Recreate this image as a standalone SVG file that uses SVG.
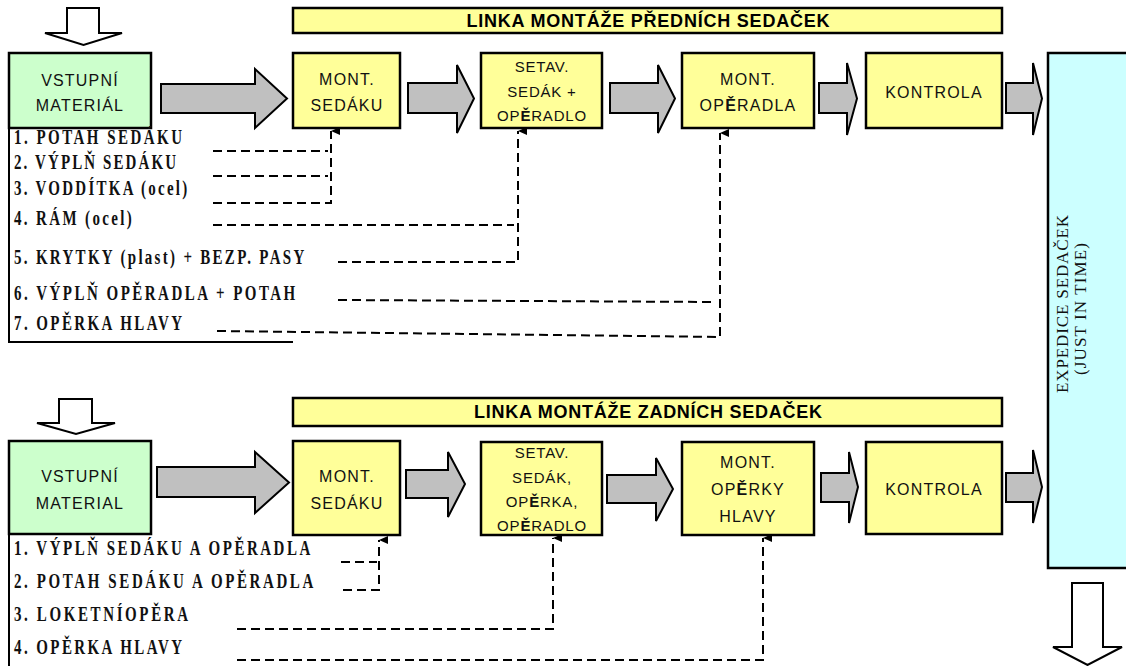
<svg xmlns="http://www.w3.org/2000/svg" width="1126" height="666" viewBox="0 0 1126 666">
<style>
.box{stroke:#000;stroke-width:2.5}
.y{fill:#ffff99}.g{fill:#ccffcc}.c{fill:#ccffff}
.bar{fill:#ffff99;stroke:#000;stroke-width:2.5}
.arr{fill:#c0c0c0;stroke:#000;stroke-width:2;stroke-linejoin:miter}
.hol{fill:#fff;stroke:#000;stroke-width:2}
.t{font-family:"Liberation Sans",Arial,sans-serif;font-size:16px;letter-spacing:1.2px;fill:#111;text-anchor:middle}
.t15{font-size:15px;letter-spacing:0.8px}
.tt{font-family:"Liberation Sans",Arial,sans-serif;font-size:18px;font-weight:bold;fill:#000;text-anchor:middle}
.l{font-family:"Liberation Serif","Times New Roman",serif;font-size:20px;font-weight:bold;fill:#111}
.v{font-family:"Liberation Serif","Times New Roman",serif;font-size:17px;fill:#111;text-anchor:middle}
.d{fill:none;stroke:#000;stroke-width:2;stroke-dasharray:9 5}
.frame{fill:none;stroke:#000;stroke-width:2}
.b{font-weight:bold}
</style>
<defs>
<marker id="up" markerUnits="userSpaceOnUse" markerWidth="10" markerHeight="10" refX="5" refY="0" orient="auto-start-reverse" viewBox="0 0 10 10">
<path d="M5,0 L9,9 L1,9 Z" fill="#000"/>
</marker>
</defs>

<!-- input arrows (hollow) -->
<g id="in-top"><path class="hol" d="M67,8 H99 V33 H122 L83.5,45 L45,33 H67 Z"/></g>
<g id="in-bottom"><path class="hol" d="M59,399 H92 V423 H115 L76,434 L37,423 H59 Z"/></g>
<g id="out"><path class="hol" d="M1072,583 H1103 V647 H1122 L1087.5,665 L1053,647 H1072 Z"/></g>

<!-- title bars -->
<g id="title-front"><rect class="bar" x="293" y="8" width="709" height="25"/>
<text class="tt" x="648" y="27" textLength="363" lengthAdjust="spacing">LINKA MONTÁŽE PŘEDNÍCH SEDAČEK</text></g>
<g id="title-rear"><rect class="bar" x="293" y="398" width="709" height="28"/>
<text class="tt" x="648" y="418" textLength="348" lengthAdjust="spacing">LINKA MONTÁŽE ZADNÍCH SEDAČEK</text></g>

<!-- expedice -->
<g id="expedice"><rect class="box c" x="1048" y="53" width="90" height="515"/>
<text class="v" transform="translate(1068,304) rotate(-90)" textLength="178" lengthAdjust="spacing">EXPEDICE SEDAČEK</text>
<text class="v" transform="translate(1086,309) rotate(-90)" textLength="132" lengthAdjust="spacing">(JUST IN TIME)</text></g>

<!-- flow arrows -->
<g id="flow">
<path class="arr" d="M161,84 H255 V69 L287,98.5 L255,128 V113 H161 Z"/>
<path class="arr" d="M408,83 H457 V65 L474,98.5 L457,133 V113 H408 Z"/>
<path class="arr" d="M610,83 H658 V65 L675,98.5 L658,133 V113 H610 Z"/>
<path class="arr" d="M819,83 H847 V63 L857,98.5 L847,135 V113 H819 Z"/>
<path class="arr" d="M1006,83 H1033 V63 L1042,98.5 L1033,135 V113 H1006 Z"/>
<path class="arr" d="M157,467 H255 V452 L289,482.5 L255,513 V497 H157 Z"/>
<path class="arr" d="M406,470 H448 V452 L465,484 L448,517 V498 H406 Z"/>
<path class="arr" d="M607,475 H656 V458 L673,489 L656,521 V503 H607 Z"/>
<path class="arr" d="M821,473 H849 V452 L858,487 L849,523 V502 H821 Z"/>
<path class="arr" d="M1006,473 H1033 V450 L1042,487 L1033,523 V502 H1006 Z"/>
</g>

<!-- top line nodes -->
<g id="vstup-front"><rect class="box g" x="9" y="53" width="142" height="75"/>
<text class="t" x="80" y="86">VSTUPNÍ</text><text class="t" x="80" y="111">MATERIÁL</text></g>
<g id="mont-sedaku-front"><rect class="box y" x="293" y="53" width="107" height="75"/>
<text class="t" x="347" y="85">MONT.</text><text class="t" x="347" y="111">SEDÁKU</text></g>
<g id="setav-front"><rect class="box y" x="481" y="53" width="121" height="75"/>
<text class="t t15" x="542" y="72">SETAV.</text><text class="t t15" x="542" y="97">SEDÁK +</text><text class="t t15" x="542" y="121">OP<tspan class="b">Ě</tspan>RADLO</text></g>
<g id="mont-operadla"><rect class="box y" x="682" y="53" width="132" height="75"/>
<text class="t" x="748" y="85">MONT.</text><text class="t" x="748" y="111">OP<tspan class="b">Ě</tspan>RADLA</text></g>
<g id="kontrola-front"><rect class="box y" x="866" y="53" width="136" height="75"/>
<text class="t" x="934" y="98">KONTROLA</text></g>

<!-- bottom line nodes -->
<g id="vstup-rear"><rect class="box g" x="9" y="441" width="142" height="93"/>
<text class="t" x="80" y="482">VSTUPNÍ</text><text class="t" x="80" y="509">MATERIAL</text></g>
<g id="mont-sedaku-rear"><rect class="box y" x="293" y="441" width="107" height="94"/>
<text class="t" x="347" y="482">MONT.</text><text class="t" x="347" y="509">SEDÁKU</text></g>
<g id="setav-rear"><rect class="box y" x="481" y="442" width="121" height="93"/>
<text class="t t15" x="542" y="458">SETAV.</text><text class="t t15" x="542" y="483">SEDÁK,</text><text class="t t15" x="542" y="507">OP<tspan class="b">Ě</tspan>RKA,</text><text class="t t15" x="542" y="531">OP<tspan class="b">Ě</tspan>RADLO</text></g>
<g id="mont-operky"><rect class="box y" x="682" y="442" width="132" height="93"/>
<text class="t" x="748" y="468">MONT.</text><text class="t" x="748" y="495">OP<tspan class="b">Ě</tspan>RKY</text><text class="t" x="748" y="522">HLAVY</text></g>
<g id="kontrola-rear"><rect class="box y" x="866" y="442" width="136" height="92"/>
<text class="t" x="934" y="495">KONTROLA</text></g>

<!-- material lists -->
<g id="list-front">
<path class="frame" d="M9,128 V342 H293"/>
<g class="l" transform="scale(0.75 1)">
<text x="18.7" y="144" textLength="224" lengthAdjust="spacing">1. POTAH SEDÁKU</text>
<text x="18.7" y="169" textLength="216" lengthAdjust="spacing">2. VÝPLŇ SEDÁKU</text>
<text x="18.7" y="195" textLength="231" lengthAdjust="spacing">3. VODDÍTKA (ocel)</text>
<text x="18.7" y="225" textLength="157" lengthAdjust="spacing">4. RÁM (ocel)</text>
<text x="18.7" y="264" textLength="387" lengthAdjust="spacing">5. KRYTKY (plast) + BEZP. PASY</text>
<text x="18.7" y="300" textLength="375" lengthAdjust="spacing">6. VÝPLŇ OPĚRADLA + POTAH</text>
<text x="18.7" y="330" textLength="224" lengthAdjust="spacing">7. OPĚRKA HLAVY</text>
</g></g>
<g id="list-rear">
<path class="frame" d="M9,534 V666"/>
<g class="l" transform="scale(0.75 1)">
<text x="18.7" y="555" textLength="395" lengthAdjust="spacing">1. VÝPLŇ SEDÁKU A OPĚRADLA</text>
<text x="18.7" y="588" textLength="399" lengthAdjust="spacing">2. POTAH SEDÁKU A OPĚRADLA</text>
<text x="18.7" y="621" textLength="232" lengthAdjust="spacing">3. LOKETNÍOPĚRA</text>
<text x="18.7" y="654" textLength="224" lengthAdjust="spacing">4. OPĚRKA HLAVY</text>
</g></g>

<!-- connectors -->
<g id="connectors">
<path class="d" d="M213,151 H328"/>
<path class="d" d="M213,176 H328"/>
<path class="d" d="M213,203 H331 V131" marker-end="url(#up)"/>
<path class="d" d="M213,225 H514"/>
<path class="d" d="M338,262 H518 V131" marker-end="url(#up)"/>
<path class="d" d="M338,300 L714,302"/>
<path class="d" d="M217,331 L720,337 V133" marker-end="url(#up)"/>
<path class="d" d="M341,562 H377"/>
<path class="d" d="M343,590 H379 V540" marker-end="url(#up)"/>
<path class="d" d="M237,629 H553 V538" marker-end="url(#up)"/>
<path class="d" d="M237,660 H763 V538" marker-end="url(#up)"/>
</g>
</svg>
